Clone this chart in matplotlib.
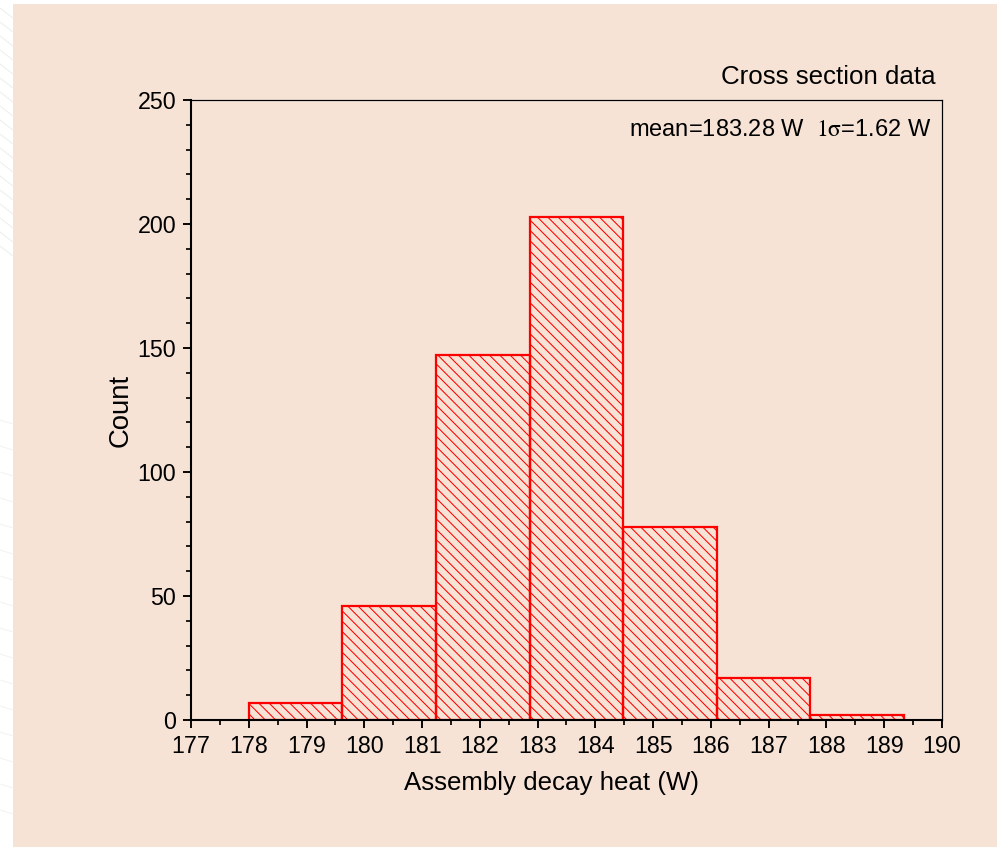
import numpy as np
import matplotlib
matplotlib.use("Agg")
import matplotlib.pyplot as plt
from matplotlib.patches import Rectangle
from matplotlib.ticker import MultipleLocator

# Histogram of assembly decay heat (bin edges in W, counts per bin)
bin_edges = [178.0, 179.62, 181.24, 182.86, 184.48, 186.10, 187.72, 189.34]
counts = [7, 46, 147, 203, 78, 17, 2]
x_ticks = list(range(177, 191))
y_ticks = [0, 50, 100, 150, 200, 250]

title_text = "Cross section data"
stats_text = r"mean=183.28 W  $\mathrm{1\sigma}$=1.62 W"
x_label = "Assembly decay heat (W)"
y_label = "Count"

DPI = 124
W, H = 997, 847
PEACH = "#F6E3D6"

plt.rcParams["font.family"] = ["Liberation Sans", "DejaVu Sans"]
plt.rcParams["mathtext.fontset"] = "stix"
plt.rcParams["hatch.linewidth"] = 0.6

fig = plt.figure(figsize=(W / DPI, H / DPI), dpi=DPI, facecolor="white")

# Peach page panel (behind the axes)
fig.add_artist(Rectangle((13 / W, 0), 1 - 13 / W, (H - 4) / H,
                         transform=fig.transFigure, facecolor=PEACH,
                         edgecolor="none", zorder=-10))

# faint decorative strokes in the white margin
for i in range(18):
    y0 = 1 - (8 + i * 14) / H
    fig.add_artist(plt.Line2D([0, 13 / W], [y0, y0 - 10 / H],
                              transform=fig.transFigure, color="#ECEFED",
                              lw=0.6, zorder=-10))
for i in range(16):
    y0 = 1 - (420 + i * 26) / H
    fig.add_artist(plt.Line2D([0, 13 / W], [y0, y0 - 4 / H],
                              transform=fig.transFigure, color="#F1F3F2",
                              lw=0.6, zorder=-10))

ax_l, ax_r, ax_t, ax_b = 191, 942, 100, 720
ax = fig.add_axes([ax_l / W, (H - ax_b) / H, (ax_r - ax_l) / W, (ax_b - ax_t) / H])
ax.set_facecolor("none")
ax.set_zorder(1)

widths = np.diff(bin_edges)
ax.bar(bin_edges[:-1], counts, width=widths, align="edge",
       facecolor="none", edgecolor="red", linewidth=1.3, hatch="\\\\\\\\",
       zorder=2)

ax.set_xlim(177, 190)
ax.set_ylim(0, 250)
ax.set_xticks(x_ticks)
ax.set_yticks(y_ticks)
ax.xaxis.set_minor_locator(MultipleLocator(0.5))
ax.yaxis.set_minor_locator(MultipleLocator(10))

for side in ("left", "bottom"):
    ax.spines[side].set_linewidth(1.2)
for side in ("top", "right"):
    ax.spines[side].set_linewidth(0.7)

ax.tick_params(which="major", direction="out", length=4.6, width=1.1,
               labelsize=13.5, pad=4, top=False, right=False)
ax.tick_params(which="minor", direction="out", length=2.8, width=1.0,
               top=False, right=False)


def to_axes(px, py):
    return (px - ax_l) / (ax_r - ax_l), (ax_b - py) / (ax_b - ax_t)


ax.set_xlabel(x_label, fontsize=15)
ax.xaxis.set_label_coords(*to_axes(551, 783))
ax.xaxis.label.set_verticalalignment("center")
ax.set_ylabel(y_label, fontsize=16)
ax.yaxis.set_label_coords(*to_axes(121, 410))
ax.yaxis.label.set_verticalalignment("center")

tx, ty = to_axes(936, 77)
ax.text(tx, ty, title_text, transform=ax.transAxes, ha="right",
        va="center", fontsize=15)
sx, sy = to_axes(931, 130)
ax.text(sx, sy, stats_text, transform=ax.transAxes, ha="right",
        va="center", fontsize=13.7)

fig.savefig("out.png", dpi=DPI, facecolor="white")
